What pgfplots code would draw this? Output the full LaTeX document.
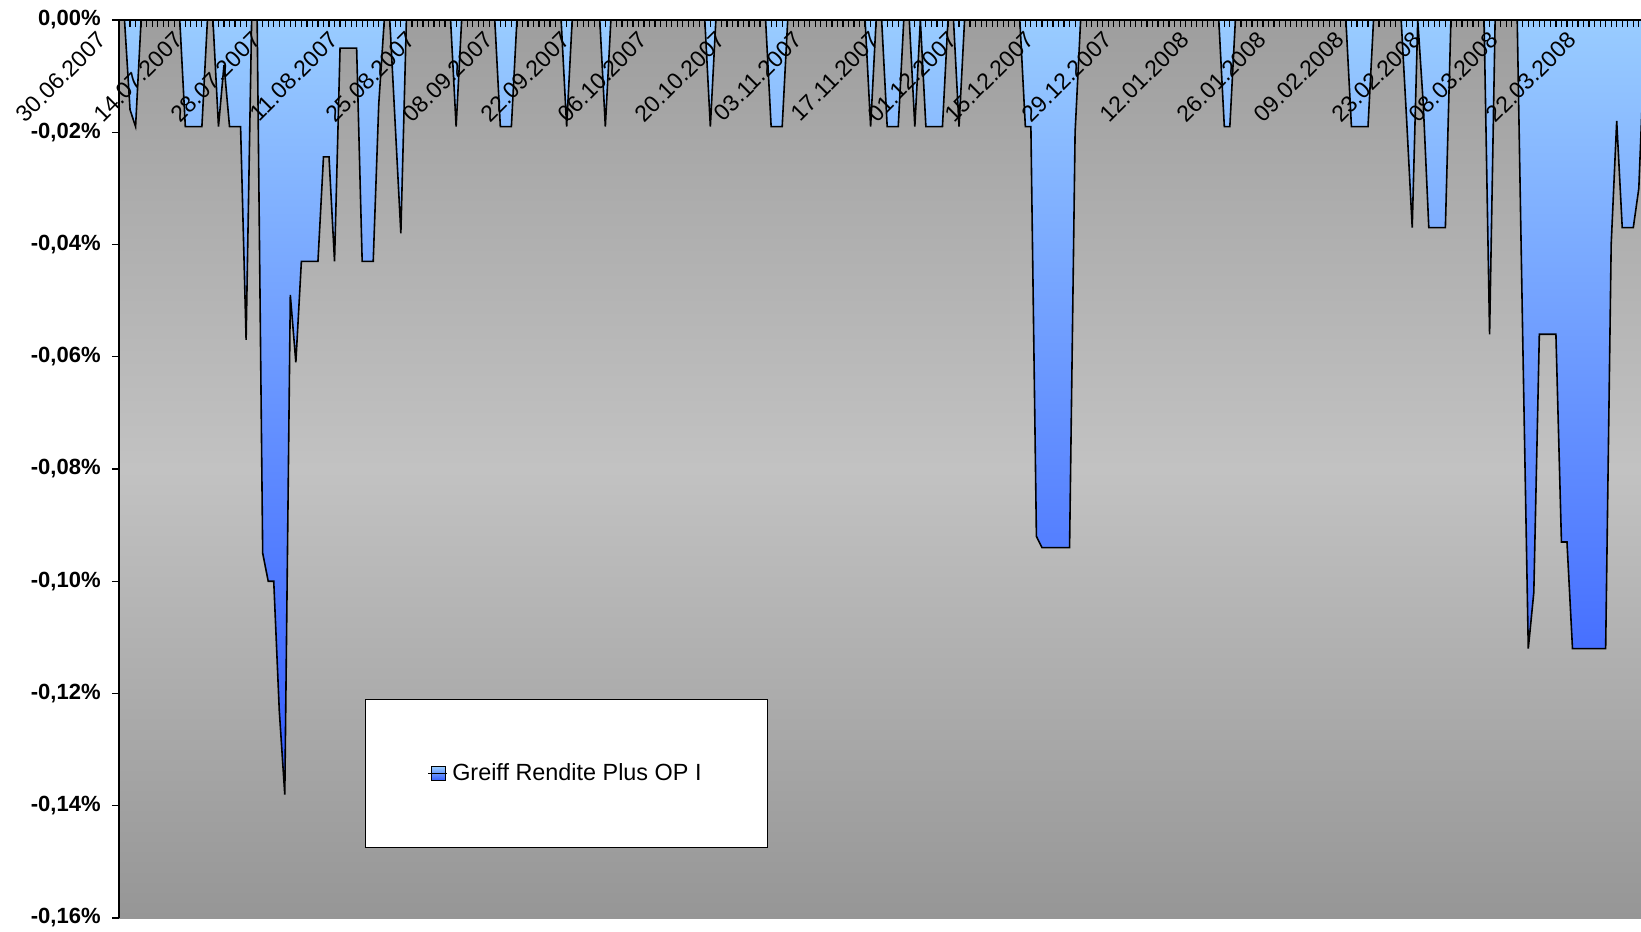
\documentclass[border=0pt]{standalone}
\usepackage{fontspec}
\setmainfont{Liberation Sans}
\usepackage{pgfplots}
\pgfplotsset{compat=1.18}

\definecolor{areatop}{RGB}{153,204,255}
\definecolor{areabot}{RGB}{51,90,255}
\definecolor{bgtop}{RGB}{158,158,158}
\definecolor{bgmid}{RGB}{194,194,194}
\definecolor{bgbot}{RGB}{150,150,150}

\begin{document}
\begin{tikzpicture}[x=1pt,y=1pt]
\useasboundingbox (0,0) rectangle (820.5,465.5);
\begin{axis}[
    at={(59.5pt,6.5pt)}, anchor=south west,
    scale only axis, width=761pt, height=449pt,
    xmin=0, xmax=275.4, ymin=-0.16, ymax=0,
    axis x line*=top, axis y line*=left,
    axis line style={-, line width=1pt, black},
    axis background/.style={top color=bgtop, bottom color=bgbot, middle color=bgmid},
    axis on top,
    tick align=inside,
    major tick length=3.5pt, minor tick length=3.5pt,
    tick style={black, line width=0.6pt},
    y tick style={xshift=-3.5pt},
    xtick={0,14,...,266},
    minor xtick={0,1,...,275},
    xticklabels={30.06.2007,14.07.2007,28.07.2007,11.08.2007,25.08.2007,
        08.09.2007,22.09.2007,06.10.2007,20.10.2007,03.11.2007,17.11.2007,
        01.12.2007,15.12.2007,29.12.2007,12.01.2008,26.01.2008,09.02.2008,
        23.02.2008,08.03.2008,22.03.2008},
    xticklabel style={xshift=-8.5pt, yshift=-8pt, rotate=45, anchor=east,
        inner sep=0pt, font=\fontsize{11.5}{13.8}\selectfont},
    ytick={-0.16,-0.14,-0.12,-0.10,-0.08,-0.06,-0.04,-0.02,0},
    yticklabels={{-0,16\%},{-0,14\%},{-0,12\%},{-0,10\%},{-0,08\%},
        {-0,06\%},{-0,04\%},{-0,02\%},{0,00\%}},
    yticklabel style={anchor=east, inner sep=0pt, xshift=-9pt,
        font=\fontsize{11}{13.2}\selectfont\bfseries},
    /pgf/number format/assume math mode=true,
    legend style={at={(0.1616,0.2439)}, anchor=north west,
        draw=black, line width=0.7pt, fill=white,
        inner xsep=31pt, inner ysep=30pt,
        font=\fontsize{11.7}{14}\selectfont},
    legend image code/.code={\draw[#1] (1.5pt,-3.5pt) rectangle (8.5pt,3.5pt);
        \path (0pt,0pt) -- (9.5pt,0pt);},
]
\addplot[draw=black, line width=0.8pt, top color=areatop, bottom color=areabot]
    table {
    0 0
    1 0
    2 -0.016
    3 -0.019
    4 0
    11 0
    12 -0.019
    15 -0.019
    16 0
    17 0
    18 -0.019
    19 -0.008
    20 -0.019
    22 -0.019
    23 -0.057
    24 0
    25 0
    26 -0.095
    27 -0.100
    28 -0.100
    29 -0.123
    30 -0.138
    31 -0.049
    32 -0.061
    33 -0.043
    36 -0.043
    37 -0.0244
    38 -0.0244
    39 -0.043
    40 -0.005
    43 -0.005
    44 -0.043
    46 -0.043
    47 -0.015
    48 0
    49 0
    50 -0.019
    51 -0.038
    52 0
    60 0
    61 -0.019
    62 0
    68 0
    69 -0.019
    71 -0.019
    72 0
    80 0
    81 -0.019
    82 0
    87 0
    88 -0.019
    89 0
    106 0
    107 -0.019
    108 0
    117 0
    118 -0.019
    120 -0.019
    121 0
    135 0
    136 -0.019
    137 0
    138 0
    139 -0.019
    141 -0.019
    142 0
    143 0
    144 -0.019
    145 0
    146 -0.019
    149 -0.019
    150 0
    151 0
    152 -0.019
    153 0
    163 0
    164 -0.019
    165 -0.019
    166 -0.092
    167 -0.094
    172 -0.094
    173 -0.020
    174 0
    199 0
    200 -0.019
    201 -0.019
    202 0
    222 0
    223 -0.019
    226 -0.019
    227 0
    232 0
    233 -0.018
    234 -0.037
    235 0
    236 -0.015
    237 -0.037
    240 -0.037
    241 0
    247 0
    248 -0.056
    249 0
    253 0
    254 -0.057
    255 -0.112
    256 -0.102
    257 -0.056
    260 -0.056
    261 -0.093
    262 -0.093
    263 -0.112
    268 -0.112
    269 -0.112
    270 -0.040
    271 -0.018
    272 -0.037
    274 -0.037
    275 -0.030
    276 -0.005
    } \closedcycle;
\addlegendentry{Greiff Rendite Plus OP I}
\end{axis}
\end{tikzpicture}
\end{document}
